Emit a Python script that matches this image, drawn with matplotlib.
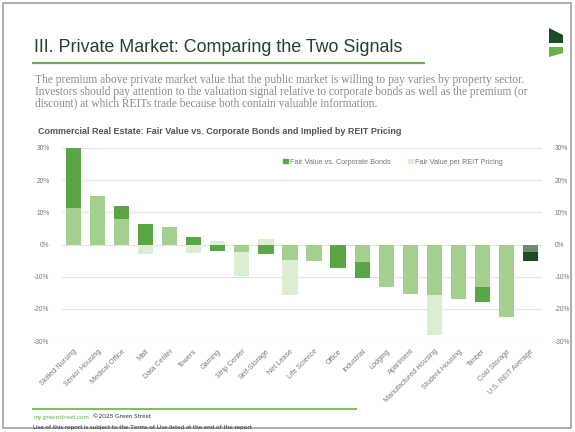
import matplotlib
matplotlib.use('Agg')
import matplotlib.pyplot as plt
from matplotlib.patches import Patch, Polygon, Rectangle
import numpy as np

plt.rcParams['font.family'] = ['Liberation Sans', 'DejaVu Sans']

# sectors, left to right
sectors = ['Skilled Nursing', 'Senior Housing', 'Medical Office', 'Mall', 'Data Center',
           'Towers', 'Gaming', 'Strip Center', 'Self-Storage', 'Net Lease',
           'Life Science', 'Office', 'Industrial', 'Lodging', 'Apartment',
           'Manufactured Housing', 'Student Housing', 'Timber', 'Cold Storage',
           'U.S. REIT Average']
# premium to private market value, %
fv_bonds = [30.0, 15.0, 12.0, 6.4, 5.3, 2.4, -2.0, -2.3, -2.8, -4.9,
            -5.2, -7.3, -10.4, -13.2, -15.3, -15.6, -16.9, -17.9, -22.6, -5.1]
fv_reit = [11.5, 15.0, 8.0, -3.0, 5.3, -2.6, 1.0, -9.8, 1.7, -15.6,
           -5.2, 0.0, -5.4, -13.2, -15.3, -28.0, -16.9, -13.2, -22.6, -2.3]
yticks = [30, 20, 10, 0, -10, -20, -30]

W, H = 575, 432
c_dark = '#5aa646'
c_mid = '#a3d08f'
c_light = '#dbeed3'
c_avg_mid = '#6f8b72'
c_avg_dark = '#1f4a27'

fig = plt.figure(figsize=(W / 100, H / 100), dpi=100)

# page overlay in pixel coordinates
pg = fig.add_axes([0, 0, 1, 1])
pg.set_xlim(0, W)
pg.set_ylim(H, 0)
pg.axis('off')
pg.add_patch(Rectangle((3, 3), 568, 425, fill=False, ec='#a0a0a0', lw=1.2))

pg.text(34, 52, 'III. Private Market: Comparing the Two Signals', fontsize=12.9,
        color='#22452a', va='baseline')
pg.plot([32, 425], [63, 63], color='#6ab04c', lw=1.6, solid_capstyle='butt')

# logo
pg.add_patch(Polygon([(549, 28), (563, 35), (563, 43), (549, 43)], closed=True,
                     color='#1d4a27', lw=0))
pg.add_patch(Polygon([(549, 47), (563, 47), (563, 53), (549, 57)], closed=True,
                     color='#6ab04c', lw=0))

para = ['The premium above private market value that the public market is willing to pay varies by property sector.',
        'Investors should pay attention to the valuation signal relative to corporate bonds as well as the premium (or',
        'discount) at which REITs trade because both contain valuable information.']
for k, line in enumerate(para):
    pg.text(35, 80 + 11.5 * k, line, fontsize=8.3, family='Liberation Serif',
            color='#8a8a8a', va='center')

pg.text(38, 131, 'Commercial Real Estate: Fair Value vs. Corporate Bonds and Implied by REIT Pricing',
        fontsize=6.5, fontweight='bold', color='#555555', va='center')

# footer
pg.plot([32, 357], [409, 409], color='#6ab04c', lw=1.2, solid_capstyle='butt')
pg.text(33, 417, 'my.greenstreet.com', fontsize=4.6, family='Lato', color='#6ab04c', va='center')
pg.text(93, 417, '\u00a92025 Green Street', fontsize=4.6, family='Lato', color='#333333', va='center')
pg.text(33, 427, 'Use of this report is subject to the Terms of Use listed at the end of the report',
        fontsize=4.6, family='Lato', color='#333333', va='center')

# chart axes
x0, x1, ytop, ybot = 62, 542, 148, 341
ax = fig.add_axes([x0 / W, 1 - ybot / H, (x1 - x0) / W, (ybot - ytop) / H])
n = len(sectors)
x = np.arange(n)
bw = 0.63
for i in range(n):
    a, b = fv_bonds[i], fv_reit[i]
    avg = sectors[i] == 'U.S. REIT Average'
    cm = c_avg_mid if avg else c_mid
    cd = c_avg_dark if avg else c_dark
    if a * b > 0:
        # same sign: shared part in mid green, the excess in the series colour
        ov = np.sign(a) * min(abs(a), abs(b))
        ax.bar(x[i], ov, bw, color=cm, zorder=3)
        if abs(a) > abs(b):
            ax.bar(x[i], a - ov, bw, bottom=ov, color=cd, zorder=3)
        elif abs(b) > abs(a):
            ax.bar(x[i], b - ov, bw, bottom=ov, color=c_light, zorder=3)
    else:
        ax.bar(x[i], a, bw, color=cd, zorder=3)
        ax.bar(x[i], b, bw, color=c_light, zorder=3)

ax.set_xlim(-0.48, n - 0.52)
ax.set_ylim(-30, 30)
ax.set_yticks(yticks)
ax.set_yticklabels(['%d%%' % v for v in yticks])
ax.tick_params(axis='y', length=0, labelsize=4.8, labelcolor='#777777', pad=9,
               labelright=True, right=False)
ax.grid(axis='y', color='#e3e3e3', lw=0.8, zorder=0)
for s in ax.spines.values():
    s.set_visible(False)
ax.set_xticks(x)
ax.set_xticklabels(sectors, rotation=45, ha='right', va='top', rotation_mode='anchor',
                   fontsize=5.2, color='#7a7a7a')
ax.tick_params(axis='x', length=0, pad=5)

handles = [Patch(color=c_dark, label='Fair Value vs. Corporate Bonds'),
           Patch(color=c_light, label='Fair Value per REIT Pricing')]
ax.legend(handles=handles, ncol=2, frameon=False, fontsize=5.2, labelcolor='#777777',
          handlelength=0.6, handleheight=0.6, handletextpad=0.3, columnspacing=2.5,
          loc='center', bbox_to_anchor=(393 / W, 1 - 162 / H), bbox_transform=fig.transFigure)

fig.savefig('out.png', dpi=100)
